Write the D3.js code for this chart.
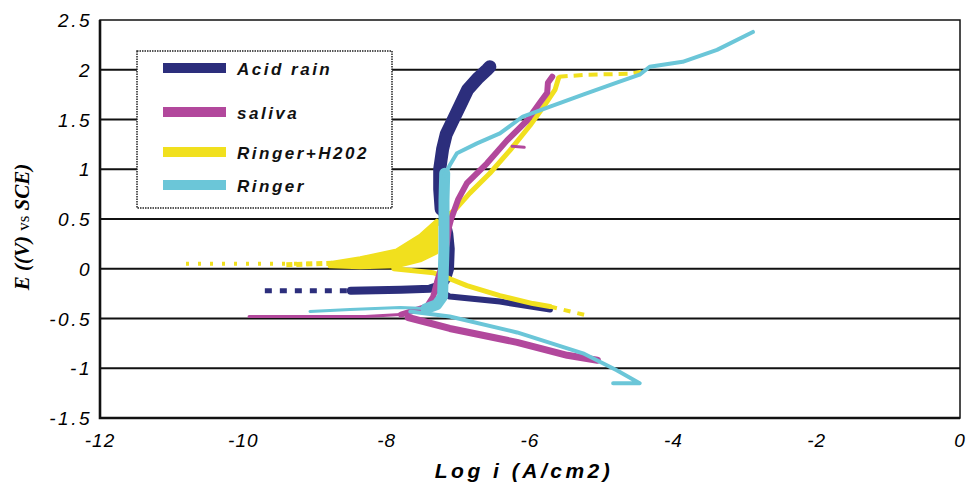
<!doctype html>
<html lang="en">
<head>
<meta charset="UTF-8">
<title>Polarization curves</title>
<script src="https://cdn.jsdelivr.net/npm/d3@7"></script>
<style>
  body { margin: 0; background: #fff; }
  svg { display: block; }
</style>
</head>
<body>
<div id="chartDiv"></div>
<script>
/** data: [log i, E] pairs */
const xTicks = [-12, -10, -8, -6, -4, -2, 0]
const yTicks = [-1.5, -1, -0.5, 0, 0.5, 1, 1.5, 2, 2.5]
const yTickLabels = ['-1.5', '-1', '-0.5', '0', '0.5', '1', '1.5', '2', '2.5']
const seriesNames = ['Acid rain', 'saliva', 'Ringer+H202', 'Ringer']

// Acid rain
const acidTail = [[-9.7, -0.22], [-8.5, -0.22]]
const acidLeft = [[-8.5, -0.22], [-7.8, -0.21], [-7.4, -0.2], [-7.27, -0.17]]
const acidRight = [[-7.27, -0.22], [-7.12, -0.28], [-6.42, -0.33], [-5.72, -0.41]]
const acidLower = [[-7.27, -0.2], [-7.17, -0.1], [-7.13, 0.0], [-7.12, 0.2], [-7.14, 0.35], [-7.19, 0.5], [-7.24, 0.65]]
const acidUpper = [[-7.24, 0.6], [-7.26, 0.8], [-7.26, 1.0], [-7.22, 1.2], [-7.17, 1.35], [-7.07, 1.5],
                   [-6.97, 1.65], [-6.87, 1.8], [-6.72, 1.92], [-6.6, 2.0], [-6.56, 2.03]]

// saliva
const salivaTail = [[-9.92, -0.48], [-8.3, -0.48], [-7.8, -0.46]]
const salivaAnodic = [[-7.8, -0.46], [-7.44, -0.38], [-7.35, -0.28], [-7.3, -0.14], [-7.26, -0.04], [-7.22, 0.06],
                      [-7.16, 0.25], [-7.13, 0.42], [-7.1, 0.5], [-7.0, 0.7], [-6.88, 0.86], [-6.6, 1.06],
                      [-6.32, 1.29], [-6.04, 1.49], [-5.86, 1.67], [-5.76, 1.77], [-5.75, 1.87], [-5.69, 1.93]]
const salivaCathodic = [[-7.7, -0.49], [-7.12, -0.6], [-6.18, -0.74], [-5.48, -0.87], [-5.06, -0.92]]
const salivaSpur = [[-6.25, 1.23], [-6.08, 1.22]]

// Ringer+H202: wedge as [log i, E low, E high]
const h2o2Tail = [[-10.8, 0.05], [-9.0, 0.05]]
const h2o2Sparse = [[-9.4, 0.04], [-8.6, 0.06]]
const h2o2Wedge = [[-8.8, 0.02, 0.06], [-8.37, 0.01, 0.11], [-7.86, 0.02, 0.19],
                   [-7.53, 0.08, 0.34], [-7.3, 0.16, 0.49]]
const h2o2Cathodic = [[-7.9, 0.0], [-7.35, -0.04], [-7.12, -0.1], [-6.88, -0.17], [-6.42, -0.27], [-5.96, -0.35], [-5.72, -0.38]]
const h2o2CathTail = [[-5.72, -0.38], [-5.2, -0.47]]
const h2o2Anodic = [[-7.3, 0.45], [-7.05, 0.59], [-6.84, 0.76], [-6.56, 0.96], [-6.28, 1.19], [-6.0, 1.44],
                    [-5.79, 1.65], [-5.65, 1.8], [-5.6, 1.92]]
const h2o2Top = [[-5.6, 1.93], [-5.2, 1.95], [-4.6, 1.96], [-4.45, 1.98], [-4.42, 2.05]]

// Ringer
const ringerTail = [[-9.07, -0.43], [-8.51, -0.41], [-7.81, -0.39], [-7.45, -0.4]]
const ringerCathodic = [[-7.67, -0.43], [-7.12, -0.48], [-6.18, -0.64], [-5.26, -0.85], [-4.79, -1.02], [-4.47, -1.15], [-4.84, -1.15]]
const ringerVertical = [[-7.45, -0.4], [-7.3, -0.36], [-7.22, -0.28], [-7.2, 0.2], [-7.2, 0.69], [-7.19, 0.96]]
const ringerUpper = [[-7.19, 0.94], [-7.12, 1.04], [-7.02, 1.16], [-6.74, 1.26], [-6.42, 1.36], [-6.1, 1.53],
                     [-5.72, 1.63], [-5.26, 1.75], [-4.79, 1.87], [-4.47, 1.95], [-4.33, 2.03], [-3.87, 2.08],
                     [-3.39, 2.2], [-2.89, 2.38]]

const colors = ['#2c2e7c', '#b2489c', '#f1e01e', '#6bc6d8']

const width = 967, height = 491
const plot = {left: 100, right: 960, top: 20, bottom: 418}

const svg = d3.select('#chartDiv').append('svg')
    .attr('width', width).attr('height', height)

const x = d3.scaleLinear().domain([-12, 0]).range([plot.left, plot.right])
const y = d3.scaleLinear().domain([-1.5, 2.5]).range([plot.bottom, plot.top])

// gridlines
svg.append('g').selectAll('line')
    .data(yTicks.filter(v => v > -1.5 && v < 2.5))
    .join('line')
    .attr('x1', plot.left).attr('x2', plot.right)
    .attr('y1', d => y(d)).attr('y2', d => y(d))
    .attr('stroke', '#111').attr('stroke-width', 2.2)

// frame
svg.append('rect')
    .attr('x', plot.left).attr('y', plot.top)
    .attr('width', plot.right - plot.left).attr('height', plot.bottom - plot.top)
    .attr('fill', 'none').attr('stroke', '#111').attr('stroke-width', 1.5)
svg.append('path')
    .attr('d', `M${plot.left},${plot.top}V${plot.bottom}H${plot.right}`)
    .attr('fill', 'none').attr('stroke', '#111').attr('stroke-width', 2.6)

// y tick labels
svg.append('g').selectAll('text')
    .data(yTicks)
    .join('text')
    .attr('x', 92).attr('y', d => y(d) + 7)
    .attr('text-anchor', 'end')
    .attr('font-family', 'Liberation Sans, Arial, sans-serif')
    .attr('font-style', 'italic').attr('font-size', 19)
    .attr('letter-spacing', 2.5)
    .text((d, i) => yTickLabels[i])

// x tick labels
svg.append('g').selectAll('text')
    .data(xTicks)
    .join('text')
    .attr('x', d => x(d)).attr('y', 447)
    .attr('text-anchor', 'middle')
    .attr('font-family', 'Liberation Sans, Arial, sans-serif')
    .attr('font-style', 'italic').attr('font-size', 19)
    .attr('letter-spacing', 1)
    .text(d => d)

// axis titles
svg.append('text')
    .attr('x', 524).attr('y', 478)
    .attr('text-anchor', 'middle')
    .attr('font-family', 'Liberation Sans, Arial, sans-serif')
    .attr('font-style', 'italic').attr('font-weight', 'bold').attr('font-size', 21)
    .attr('letter-spacing', 3.5)
    .text('Log i (A/cm2)')

const yTitle = svg.append('text')
    .attr('transform', 'translate(29,227) rotate(-90)')
    .attr('text-anchor', 'middle')
    .attr('font-family', 'Liberation Serif, Times New Roman, serif')
    .attr('font-size', 21).attr('font-weight', 'bold')
yTitle.append('tspan').attr('font-style', 'italic').text('E ((V) ')
yTitle.append('tspan').attr('font-weight', 'normal').attr('font-size', 17).text('vs')
yTitle.append('tspan').attr('font-style', 'italic').text(' SCE)')

// curves
const line = d3.line().x(d => x(d[0])).y(d => y(d[1]))
const area = d3.area().x(d => x(d[0])).y0(d => y(d[1])).y1(d => y(d[2]))

const curves = svg.append('g').attr('fill', 'none')
    .attr('stroke-linejoin', 'round')

function drawBranch(data, color, w, dash) {
    curves.append('path')
        .attr('d', line(data))
        .attr('stroke', color)
        .attr('stroke-width', w)
        .attr('stroke-dasharray', dash || null)
        .attr('stroke-linecap', dash ? 'butt' : 'round')
}

// acid rain
drawBranch(acidTail, colors[0], 5, '7,8')
drawBranch(acidLeft, colors[0], 8)
drawBranch(acidRight, colors[0], 6)
drawBranch(acidLower, colors[0], 10)
drawBranch(acidUpper, colors[0], 13)

// Ringer+H202
drawBranch(h2o2Tail, colors[2], 4, '3,9')
drawBranch(h2o2Sparse, colors[2], 5, '6,4')
curves.append('path')
    .attr('d', area(h2o2Wedge))
    .attr('fill', colors[2]).attr('stroke', colors[2]).attr('stroke-width', 3)
drawBranch(h2o2Cathodic, colors[2], 5)
drawBranch(h2o2CathTail, colors[2], 4, '7,7')
drawBranch(h2o2Anodic, colors[2], 5)
drawBranch(h2o2Top, colors[2], 4, '9,6')

// saliva
drawBranch(salivaTail, colors[1], 3)
drawBranch(salivaCathodic, colors[1], 7)
drawBranch(salivaAnodic, colors[1], 6)
drawBranch(salivaSpur, colors[1], 3)

// Ringer
drawBranch(ringerTail, colors[3], 3)
drawBranch(ringerCathodic, colors[3], 4)
drawBranch(ringerVertical, colors[3], 11)
drawBranch(ringerUpper, colors[3], 4)

// legend
const legend = svg.append('g')
legend.append('rect')
    .attr('x', 137).attr('y', 51).attr('width', 255).attr('height', 157)
    .attr('fill', '#fff').attr('stroke', '#222').attr('stroke-width', 1.5)
    .attr('stroke-dasharray', '1.5,1')
const legendY = [68, 112, 152, 185]
seriesNames.forEach((name, i) => {
    legend.append('rect')
        .attr('x', 163).attr('y', legendY[i] - 5).attr('width', 63).attr('height', 10)
        .attr('fill', colors[i])
    legend.append('text')
        .attr('x', 237).attr('y', legendY[i] + 7)
        .attr('font-family', 'Liberation Sans, Arial, sans-serif')
        .attr('font-style', 'italic').attr('font-weight', 'bold').attr('font-size', 17)
        .attr('letter-spacing', 2.5)
        .attr('fill', '#111')
        .text(name)
})
</script>
</body>
</html>
